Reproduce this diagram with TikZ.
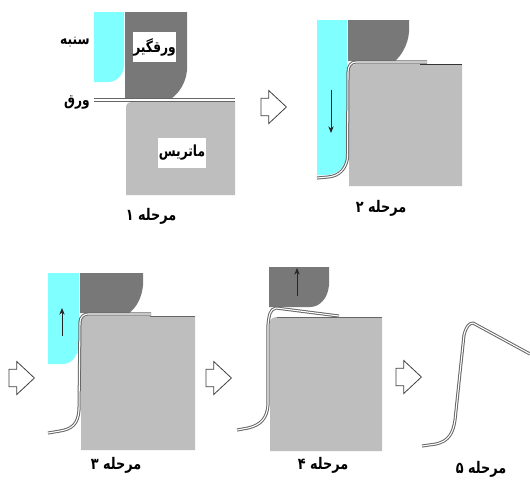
\documentclass[tikz,border=0pt]{standalone}
\usepackage{fontspec}
\usepackage{xcolor}
\TeXXeTstate=1
\newfontfamily\arabicfont[Script=Arabic,FakeStretch=0.8]{DejaVu Sans}
\definecolor{punchcol}{HTML}{7FFFFF}
\definecolor{holdercol}{HTML}{787878}
\definecolor{matrixcol}{HTML}{BEBEBE}
\definecolor{sheetcol}{HTML}{666666}
\usepackage{tikz}
\usetikzlibrary{arrows.meta,shapes.arrows}
\tikzset{
  punchpart/.style={fill=punchcol,draw=none},
  holderpart/.style={fill=holdercol,draw=none},
  matrixpart/.style={fill=matrixcol,draw=none},
  sheetline/.style={preaction={draw=sheetcol,line width=2.3pt,line join=round},draw=white,line width=0.8pt,line join=round},
  motionarrow/.style={-{Stealth[length=5pt,width=4pt]},line width=0.6pt,black!85},
  nextarrow/.style={draw=black!75,fill=white,line width=0.6pt,single arrow,text height=12.5pt,text depth=0pt,text width=0pt,
    minimum height=19pt,single arrow head extend=5.75pt,single arrow tip angle=86,inner sep=0pt,anchor=tip},
  stagelabel/.style={font=\arabicfont\bfseries\fontsize{12}{14}\selectfont,inner sep=1pt},
  partlabel/.style={font=\arabicfont\bfseries\fontsize{11.5}{13}\selectfont,inner sep=2pt},
  whitelabel/.style={partlabel,fill=white,inner xsep=0.5pt,inner ysep=0pt,minimum height=22.5pt}
}
\begin{document}
\begin{tikzpicture}[x=0.75pt,y=-0.75pt]
\useasboundingbox[fill=white] (0,0) rectangle (530,479);
% stage 1
\fill[punchpart] (94,12) -- (124,12) -- (124,66) .. controls (123,76) and (116,82) .. (108,82) -- (94,82) -- cycle;
\fill[holderpart] (125,12) -- (187,12) -- (187,70) .. controls (186,82) and (180,92) .. (172,98) -- (125,98) -- cycle;
\fill[matrixpart] (126,108) .. controls (126,104) and (128,102) .. (132,102) -- (235,102) -- (235,195) -- (126,195) -- cycle;
\draw[sheetline] (94,100) -- (235,100);
\node[whitelabel] (holderA) at (154.5,47) {\beginR ورقگیر\endR};
\node[whitelabel] (matrixA) at (182,152.5) {\beginR ماتریس\endR};
\node[partlabel] (punchA) at (75,42) {\beginR سنبه\endR};
\node[partlabel] (sheetA) at (77,103) {\beginR ورق\endR};
\node[stagelabel] (stageA) at (151,216) {\beginR مرحله ۱\endR};
\node[nextarrow] (nextA) at (287,107) {};
% stage 2
\fill[holderpart] (348,20) -- (409,20) -- (409,32) .. controls (408,45) and (401,56) .. (395,61) -- (348,61) -- cycle;
\fill[matrixpart] (349,72) .. controls (349,67) and (352,64) .. (356,64) -- (462,64) -- (462,186) -- (349,186) -- cycle;
\fill[punchpart] (317,20) -- (347,20) -- (347,155) .. controls (346,166) and (338,174) .. (328,175) -- (317,175) -- cycle;
\draw[black!80,line width=0.6pt] (420,64) -- (462,64);
\draw[sheetline] (317,178) -- (328,177) .. controls (340,176) and (346,168) .. (347.5,158) -- (348,72) .. controls (348,66) and (351,62) .. (356,62) -- (427,62);
\draw[motionarrow] (331,90) -- (331,133);
\node[stagelabel] (stageB) at (381,208) {\beginR مرحله ۲\endR};
% stage 3
\fill[holderpart] (80,273) -- (143,273) -- (143,285) .. controls (142,298) and (136,308) .. (129,313) -- (80,313) -- cycle;
\fill[matrixpart] (81,322) .. controls (81,318) and (84,316) .. (88,316) -- (195,316) -- (195,450) -- (81,450) -- cycle;
\fill[punchpart] (48,273) -- (79,273) -- (79,345) .. controls (77,358) and (71,364) .. (62,364) -- (48,364) -- cycle;
\draw[black!60,line width=0.6pt] (150,316) -- (195,316);
\draw[sheetline] (48,433) -- (60,431) .. controls (72,429) and (78,424) .. (79,410) -- (80,322) .. controls (80,317) and (84,314) .. (88,314) -- (151,314);
\draw[motionarrow] (62,336) -- (62,308);
\node[stagelabel] (stageC) at (116,465) {\beginR مرحله ۳\endR};
\node[nextarrow] (nextB) at (35,378) {};
\node[nextarrow] (nextC) at (232,378) {};
% stage 4
\fill[holderpart] (269,267) -- (329,267) -- (329,285) .. controls (328,298) and (320,307) .. (310,307) -- (269,307) -- cycle;
\fill[matrixpart] (270,322) .. controls (270,319) and (273,317) .. (277,317) -- (382,317) -- (382,451) -- (270,451) -- cycle;
\draw[black!60,line width=0.6pt] (277,317) -- (382,317);
\draw[sheetline] (237,430) -- (248,428) .. controls (261,425) and (267,418) .. (268,405) -- (268,325) .. controls (269,315) and (270,309) .. (276,308) -- (339,316);
\draw[motionarrow] (297,296) -- (297,268);
\node[stagelabel] (stageD) at (323,465) {\beginR مرحله ۴\endR};
\node[nextarrow] (nextD) at (422,377) {};
% stage 5
\draw[sheetline] (422,446) -- (436,444) .. controls (449,441) and (453,433) .. (455,420) -- (464,335) .. controls (466,327) and (469,323) .. (473,323) -- (530,354);
\node[stagelabel] (stageE) at (481,469) {\beginR مرحله ۵\endR};
\end{tikzpicture}
\end{document}
